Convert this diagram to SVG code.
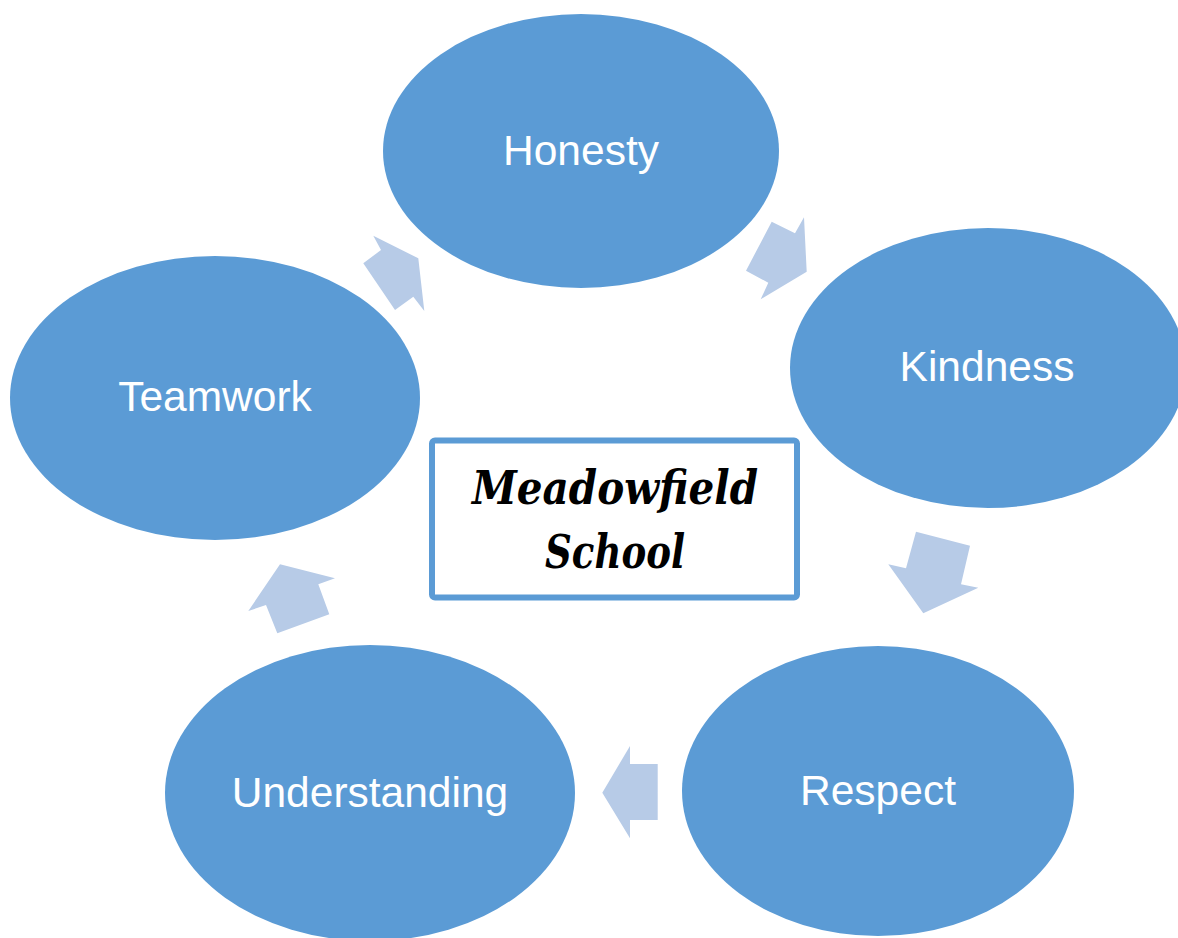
<svg xmlns="http://www.w3.org/2000/svg" width="1178" height="938" viewBox="0 0 1178 938">
<style>
.node ellipse{fill:#5B9BD5;}
.node text{fill:#FFFFFF;font-family:"Liberation Sans",Arial,sans-serif;font-size:42.5px;text-anchor:middle;}
.arr{fill:#B7CBE7;}
.title{font-family:"DejaVu Serif","Liberation Serif",serif;font-style:italic;font-weight:bold;fill:#000;text-anchor:middle;}
</style>
<rect width="1178" height="938" fill="#FFFFFF"/>
<g id="connectors">
<polygon class="arr" points="771.7,221.7 795,233.3 804,217.3 806.7,271.7 760.7,299.3 768.3,282.7 746,270.7"/>
<polygon class="arr" points="916,531.7 970,545.7 961,584.3 978.3,587.7 923.3,613.3 888.3,564.3 906,568.3"/>
<polygon class="arr" points="630,746 630,764 657.7,764 657.7,820 630,820 630,838.3 602.3,792.7"/>
<polygon class="arr" points="280,564.3 335,578.3 318.3,584.3 329.3,614.3 277.3,633.3 266,605 248.3,611"/>
<polygon class="arr" points="373.3,235.7 418.3,258.3 424.3,311 413.3,296.7 395,310 363.3,263.3 381,250"/>
</g>
<g id="honesty" class="node"><ellipse cx="581" cy="151" rx="198" ry="137"/><text x="581" y="165">Honesty</text></g>
<g id="kindness" class="node"><ellipse cx="988" cy="368" rx="198" ry="140"/><text x="987" y="381">Kindness</text></g>
<g id="respect" class="node"><ellipse cx="878" cy="791" rx="196" ry="145"/><text x="878" y="805">Respect</text></g>
<g id="understanding" class="node"><ellipse cx="370" cy="793" rx="205" ry="148"/><text x="370" y="807">Understanding</text></g>
<g id="teamwork" class="node"><ellipse cx="215" cy="398" rx="205" ry="142"/><text x="215" y="411">Teamwork</text></g>
<g id="center">
<rect x="432" y="440.5" width="365" height="157" rx="3" fill="#FFFFFF" stroke="#5B9BD5" stroke-width="6"/>
<text class="title" x="615" y="504" font-size="46" textLength="286" lengthAdjust="spacingAndGlyphs">Meadowfield</text>
<text class="title" x="615" y="568" font-size="46" textLength="140" lengthAdjust="spacingAndGlyphs">School</text>
</g>
</svg>
